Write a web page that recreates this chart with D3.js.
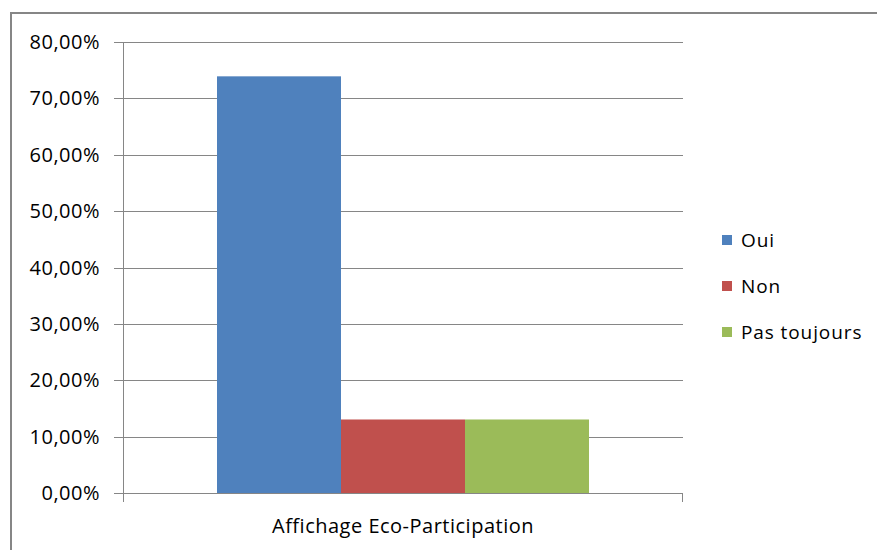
<!DOCTYPE html>
<html>
<head>
<meta charset="utf-8">
<script src="https://cdn.jsdelivr.net/npm/d3@7"></script>
<style>
  body { margin: 0; background: #fff; }
  svg text { font-family: "Open Sans", "Noto Sans", sans-serif; fill: #000; }
</style>
</head>
<body>
<svg id="chart"></svg>
<script>
// data
const categories = ["Affichage Eco-Participation"];
const series = ["Oui", "Non", "Pas toujours"];
const values = [0.7391, 0.1304, 0.1304];
const colors = ["#4F81BD", "#C0504D", "#9BBB59"];
const yTicks = [0, 0.1, 0.2, 0.3, 0.4, 0.5, 0.6, 0.7, 0.8];

const width = 877, height = 550;
const margin = { top: 42, right: 194, bottom: 57, left: 123 };

const svg = d3.select("#chart")
  .attr("width", width)
  .attr("height", height);

// outer frame
svg.append("rect")
  .attr("x", 11).attr("y", 13)
  .attr("width", width + 10).attr("height", height + 10)
  .attr("fill", "none")
  .attr("stroke", "#868686")
  .attr("stroke-width", 2);

const inner_width = width - margin.left - margin.right;
const inner_height = height - margin.top - margin.bottom;

const chart = svg.append("g")
  .attr("transform", `translate(${margin.left}, ${margin.top})`);

const yscale = d3.scaleLinear().domain([0, 0.8]).range([inner_height, 0]);
const xscale = d3.scaleBand().domain(categories).range([0, inner_width]).paddingInner(0).paddingOuter(0.2527);
const sub = d3.scaleBand().domain(series).range([0, xscale.bandwidth()]);

const fmt = d => d3.format(".2f")(d * 100).replace(".", ",") + "%";

// gridlines
chart.append("g")
  .selectAll("line")
  .data(yTicks)
  .join("line")
  .attr("x1", -9)
  .attr("x2", inner_width)
  .attr("y1", d => Math.round(yscale(d)) + 0.5)
  .attr("y2", d => Math.round(yscale(d)) + 0.5)
  .attr("stroke", "#868686")
  .attr("stroke-width", 1);

// y axis line and bottom tick
chart.append("line")
  .attr("x1", 0.5).attr("x2", 0.5)
  .attr("y1", 0).attr("y2", inner_height + 9)
  .attr("stroke", "#868686");
chart.append("line")
  .attr("x1", inner_width - 0.5).attr("x2", inner_width - 0.5)
  .attr("y1", inner_height).attr("y2", inner_height + 9)
  .attr("stroke", "#868686");

// y labels
chart.append("g")
  .selectAll("text")
  .data(yTicks)
  .join("text")
  .attr("x", -23)
  .attr("y", d => yscale(d))
  .attr("dy", "0.35em")
  .attr("text-anchor", "end")
  .style("font-size", "20px")
  .style("letter-spacing", "0.5px")
  .text(fmt);

// bars
chart.append("g")
  .selectAll("rect")
  .data(series.map((s, i) => ({ s, v: values[i], c: colors[i] })))
  .join("rect")
  .attr("x", d => xscale(categories[0]) + sub(d.s))
  .attr("y", d => yscale(d.v))
  .attr("width", sub.bandwidth())
  .attr("height", d => inner_height - yscale(d.v))
  .attr("fill", d => d.c);

// category label
chart.append("text")
  .attr("x", xscale(categories[0]) + xscale.bandwidth() / 2)
  .attr("y", inner_height + 40)
  .attr("text-anchor", "middle")
  .style("font-size", "20px")
  .style("letter-spacing", "0.5px")
  .text(categories[0]);

// legend
const legend = svg.append("g")
  .attr("transform", "translate(722, 240)");
const item = legend.selectAll("g")
  .data(series)
  .join("g")
  .attr("transform", (d, i) => `translate(0, ${i * 46})`);
item.append("rect")
  .attr("x", 0).attr("y", -5)
  .attr("width", 10).attr("height", 10)
  .attr("fill", (d, i) => colors[i]);
item.append("text")
  .attr("x", 19)
  .attr("y", 0)
  .attr("dy", "0.35em")
  .style("font-size", "19px")
  .style("letter-spacing", "0.9px")
  .text(d => d);
</script>
</body>
</html>
